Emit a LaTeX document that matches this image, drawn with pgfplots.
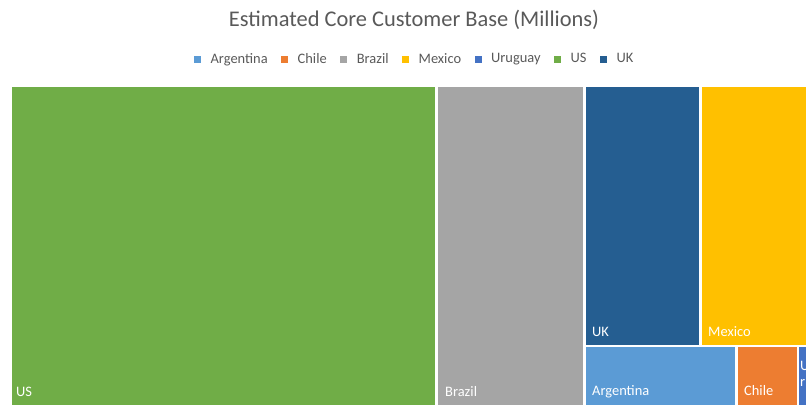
\documentclass[border=0pt]{standalone}
\usepackage{pgfplots}
\pgfplotsset{compat=1.18}
\usepackage{fontspec}
\setmainfont{Carlito}
\definecolor{cArg}{HTML}{5B9BD5}
\definecolor{cChi}{HTML}{ED7D31}
\definecolor{cBra}{HTML}{A5A5A5}
\definecolor{cMex}{HTML}{FFC000}
\definecolor{cUru}{HTML}{4472C4}
\definecolor{cUS}{HTML}{70AD47}
\definecolor{cUK}{HTML}{255E91}
\definecolor{txt}{HTML}{595959}
\begin{document}
\begin{tikzpicture}[x=1bp,y=1bp]
\begin{axis}[at={(0,0)}, anchor=south west, scale only axis,
  width=806bp, height=412bp,
  xmin=0, xmax=806, ymin=0, ymax=412, y dir=reverse,
  axis lines=none, clip=true,
  legend columns=7,
  legend style={at={(0.5136,0.8568)}, anchor=center, draw=none, fill=none,
    font=\fontsize{14.5}{16}\selectfont, text=txt,
    nodes={inner sep=0.5bp},
    /tikz/every even column/.append style={column sep=13bp}},
  legend image code/.code={\fill[#1] (0bp,-3.5bp) rectangle (7bp,3.5bp); \path (16bp,0bp);},
]
% Treemap tiles: corners in pixel units (x0,y0)-(x1,y1)
\addplot[fill=cArg, draw=none] coordinates {(586,347) (735,347) (735,405) (586,405)} -- cycle;
\addlegendentry{Argentina}
\addplot[fill=cChi, draw=none] coordinates {(738,347) (797,347) (797,405) (738,405)} -- cycle;
\addlegendentry{Chile}
\addplot[fill=cBra, draw=none] coordinates {(438,87) (583,87) (583,405) (438,405)} -- cycle;
\addlegendentry{Brazil}
\addplot[fill=cMex, draw=none] coordinates {(702,87) (812,87) (812,345) (702,345)} -- cycle;
\addlegendentry{Mexico}
\addplot[fill=cUru, draw=none] coordinates {(799,347) (812,347) (812,405) (799,405)} -- cycle;
\addlegendentry{Uruguay}
\addplot[fill=cUS, draw=none] coordinates {(12,87) (435,87) (435,405) (12,405)} -- cycle;
\addlegendentry{US}
\addplot[fill=cUK, draw=none] coordinates {(586,87) (699,87) (699,345) (586,345)} -- cycle;
\addlegendentry{UK}
\end{axis}
\begin{scope}[every node/.style={font=\fontsize{14.5}{16}\selectfont, text=white, inner sep=0pt, anchor=base west}]
\node at (16,412-396) {US};
\node at (445,412-396) {Brazil};
\node at (592,412-395) {Argentina};
\node at (744,412-395) {Chile};
\node at (592,412-336) {UK};
\node at (708,412-336) {Mexico};
\node[align=left, anchor=north west] at (800,412-361) {U\\ruguay};
\end{scope}
\node[font=\fontsize{22.5}{26}\selectfont, text=txt] at (414,412-20) {Estimated Core Customer Base (Millions)};
\pgfresetboundingbox
\useasboundingbox (0,0) rectangle (806,412);
\end{tikzpicture}
\end{document}
